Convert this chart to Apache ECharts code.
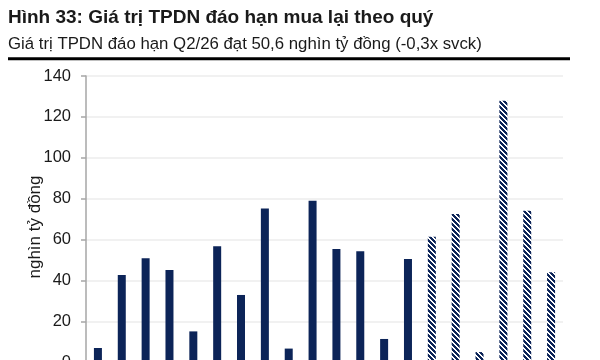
<!DOCTYPE html>
<html><head><meta charset="utf-8">
<script src="https://cdn.jsdelivr.net/npm/echarts@6/dist/echarts.min.js"></script>
<style>html,body{margin:0;padding:0;background:#fff}#c{width:600px;height:360px}</style>
</head><body><div id="c"></div>
<script>
const categories = ['Q1/23','Q2/23','Q3/23','Q4/23','Q1/24','Q2/24','Q3/24','Q4/24','Q1/25','Q2/25','Q3/25','Q4/25','Q1/26','Q2/26','Q3/26','Q4/26','Q1/27','Q2/27','Q3/27','Q4/27'];
const actualValues = [7.1, 42.8, 51.0, 45.2, 15.2, 56.8, 33.0, 75.2, 6.8, 79.0, 55.5, 54.4, 11.5, 50.6, null, null, null, null, null, null];
const forecastValues = [null, null, null, null, null, null, null, null, null, null, null, null, null, null, 61.5, 72.6, 5.1, 127.9, 74.2, 44.1];
const yTicks = [0, 20, 40, 60, 80, 100, 120, 140];

const navy = '#0c2458';
function hatch() {
  const n = 5;
  const cv = document.createElement('canvas');
  cv.width = n; cv.height = n;
  const ctx = cv.getContext('2d');
  ctx.fillStyle = navy; ctx.fillRect(0, 0, n, n);
  ctx.fillStyle = '#ffffff';
  for (let y = 0; y < n; y++) for (let x = 0; x < n; x++) {
    const d = ((x - y) % n + n) % n;
    if (d === 0 || d === 1) ctx.fillRect(x, y, 1, 1);
  }
  return cv;
}

const chart = echarts.init(document.getElementById('c'), null, {renderer: 'canvas'});
const font = '"Liberation Sans", Arial, sans-serif';
chart.setOption({
  animation: false,
  textStyle: {fontFamily: font},
  title: [{
    text: 'Hình 33: Giá trị TPDN đáo hạn mua lại theo quý',
    left: 3, top: 8, padding: [0, 5],
    textStyle: {fontFamily: font, fontSize: 19, fontWeight: 'bold', color: '#1a1a1a'}
  }, {
    text: 'Giá trị TPDN đáo hạn Q2/26 đạt 50,6 nghìn tỷ đồng (-0,3x svck)',
    left: 3, top: 36, padding: [0, 5],
    textStyle: {fontFamily: font, fontSize: 16.8, fontWeight: 'normal', color: '#1a1a1a'}
  }],
  graphic: [{
    type: 'line', shape: {x1: 8, y1: 58.8, x2: 570, y2: 58.8},
    style: {stroke: '#000', lineWidth: 3}
  }, {
    type: 'text', x: 35, y: 227, rotation: Math.PI / 2,
    style: {text: 'nghìn tỷ đồng', fontFamily: font, fontSize: 17, fill: '#1a1a1a',
      align: 'center', verticalAlign: 'middle'}
  }],
  grid: {left: 86, right: 37, top: 76, height: 286.5, containLabel: false, outerBoundsMode: 'none'},
  xAxis: {
    type: 'category', data: categories,
    axisLine: {show: true, lineStyle: {color: '#a6a6a6', width: 1.5}},
    axisTick: {show: false},
    axisLabel: {show: false}
  },
  yAxis: {
    type: 'value', min: 0, max: 140, interval: 20,
    axisLine: {show: true, lineStyle: {color: '#a6a6a6', width: 1.5}},
    axisTick: {show: true, inside: false, length: 5, lineStyle: {color: '#a6a6a6', width: 1.5}},
    axisLabel: {margin: 15, fontFamily: font, fontSize: 16.5, color: '#1a1a1a',
      formatter: v => yTicks.includes(v) ? String(v) : ''},
    splitLine: {show: true, lineStyle: {color: '#ececec', width: 1.5}}
  },
  series: [
    {type: 'bar', data: actualValues, barWidth: 8, barGap: '-100%',
     itemStyle: {color: navy}},
    {type: 'bar', data: forecastValues, barWidth: 8,
     itemStyle: {color: {image: hatch(), repeat: 'repeat'}}}
  ]
});
</script></body></html>
